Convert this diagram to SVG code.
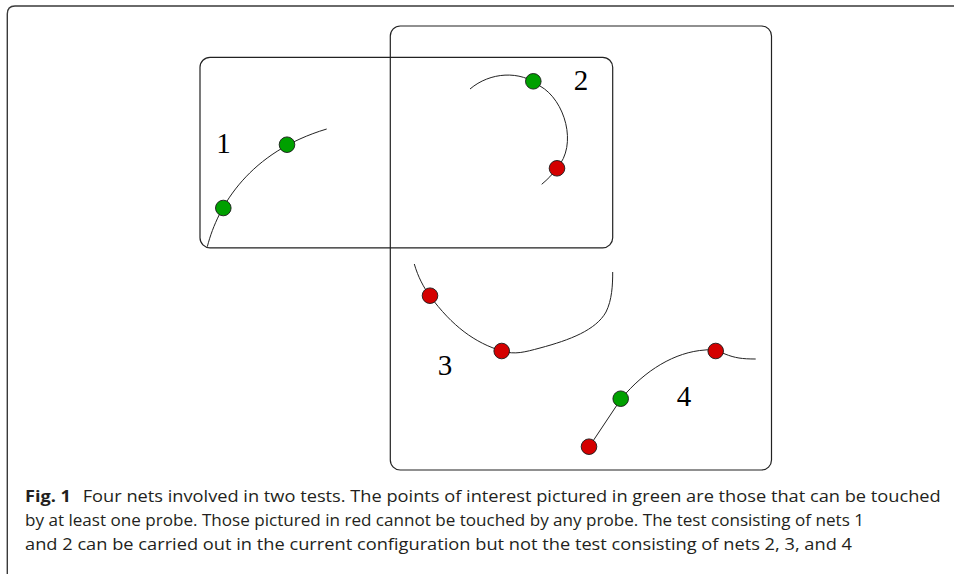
<svg xmlns="http://www.w3.org/2000/svg" width="954" height="574" viewBox="0 0 954 574">
  <style>
    .frame { fill: none; stroke: #3a3a3a; stroke-width: 1.4; }
    .box { fill: none; stroke: #222; stroke-width: 1.2; }
    .net { fill: none; stroke: #222; stroke-width: 1; }
    .ok { fill: #00a000; stroke: #1a1a1a; stroke-width: 0.9; }
    .bad { fill: #d40000; stroke: #1a1a1a; stroke-width: 0.9; }
    .lbl { font-family: "Liberation Serif", "Times New Roman", serif; font-size: 29px; fill: #000; text-anchor: middle; }
    .cap { font-family: "Open Sans", "Noto Sans", sans-serif; font-size: 16.5px; fill: #231f20; }
    .capb { font-family: "Open Sans", "Noto Sans", sans-serif; font-size: 16.5px; font-weight: bold; fill: #231f20; }
  </style>
  <rect width="954" height="574" fill="#ffffff"/>

  <!-- figure frame -->
  <path class="frame" d="M7.3,574 L7.3,14 Q7.3,6 15,6 L954,6"/>

  <!-- test regions -->
  <g id="test-a">
    <rect class="box" x="200" y="57.3" width="412.7" height="190.5" rx="10" ry="10"/>
  </g>
  <g id="test-b">
    <rect class="box" x="390.3" y="26" width="381.2" height="444" rx="10" ry="10"/>
  </g>

  <!-- nets -->
  <g id="connectors">
    <path class="net" d="M207.3,246.7 C218,205 250,152 326.7,129"/>
    <path class="net" d="M470,89 C490,72 520,70 540,86 C565,100 578,145 557,168 C552,175 548,179 541.7,184.3"/>
    <path class="net" d="M414.3,264 C418,277 424,288 430,296 C452,326 475,343 502,351 C515,355 525,352 540,348 C570,340 596,330 606,312 C612,300 612.7,285 612.7,272"/>
    <path class="net" d="M589,447 L621,399 C645,370 675,352 705,350 C712,349 718,351 725,354 C735,358 742,359 755.7,359"/>
  </g>

  <g id="net-1">
    <circle class="ok" cx="223.3" cy="208" r="7.8"/>
    <circle class="ok" cx="287" cy="144.7" r="7.8"/>
    <text class="lbl" x="223.5" y="152.7">1</text>
  </g>
  <g id="net-2">
    <circle class="ok" cx="533.3" cy="81.3" r="7.8"/>
    <circle class="bad" cx="557" cy="168.3" r="7.8"/>
    <text class="lbl" x="581" y="89.5">2</text>
  </g>
  <g id="net-3">
    <circle class="bad" cx="430" cy="295.7" r="7.8"/>
    <circle class="bad" cx="501.7" cy="351" r="7.8"/>
    <text class="lbl" x="445" y="375">3</text>
  </g>
  <g id="net-4">
    <circle class="bad" cx="589" cy="446.7" r="7.8"/>
    <circle class="ok" cx="620.7" cy="398.7" r="7.8"/>
    <circle class="bad" cx="715.7" cy="351" r="7.8"/>
    <text class="lbl" x="684" y="406">4</text>
  </g>

  <!-- caption -->
  <g id="caption">
    <text class="capb" x="25" y="501.5" textLength="46" lengthAdjust="spacingAndGlyphs">Fig. 1</text>
    <text class="cap" x="82.7" y="501.5" textLength="858" lengthAdjust="spacingAndGlyphs">Four nets involved in two tests. The points of interest pictured in green are those that can be touched</text>
    <text class="cap" x="25" y="525.5" textLength="839" lengthAdjust="spacingAndGlyphs">by at least one probe. Those pictured in red cannot be touched by any probe. The test consisting of nets 1</text>
    <text class="cap" x="25" y="549.5" textLength="827" lengthAdjust="spacingAndGlyphs">and 2 can be carried out in the current configuration but not the test consisting of nets 2, 3, and 4</text>
  </g>
</svg>
